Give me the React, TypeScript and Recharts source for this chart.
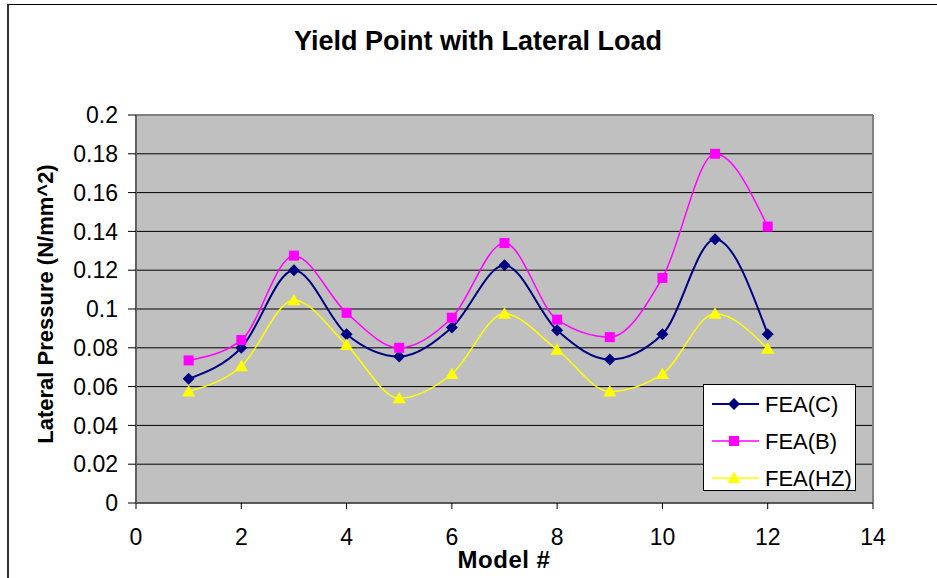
import React from 'react';
import { LineChart, Line, XAxis, YAxis, CartesianGrid, Legend, ReferenceLine } from 'recharts';

const models = [1, 2, 3, 4, 5, 6, 7, 8, 9, 10, 11, 12];
const feaC = [0.064, 0.08, 0.12, 0.087, 0.0755, 0.0905, 0.1225, 0.089, 0.074, 0.087, 0.136, 0.087];
const feaB = [0.0735, 0.084, 0.1275, 0.098, 0.08, 0.0955, 0.134, 0.0945, 0.0855, 0.116, 0.18, 0.1425];
const feaHZ = [0.0575, 0.0705, 0.1045, 0.0815, 0.054, 0.0665, 0.0975, 0.079, 0.0575, 0.0665, 0.0975, 0.0795];
const xTicks = [0, 2, 4, 6, 8, 10, 12, 14];
const yTicks = [0, 0.02, 0.04, 0.06, 0.08, 0.1, 0.12, 0.14, 0.16, 0.18, 0.2];

const data = models.map((m, i) => ({ model: m, c: feaC[i], b: feaB[i], hz: feaHZ[i] }));

const FONT = '"Liberation Sans", Arial, sans-serif';
const NAVY = '#000080';
const MAGENTA = '#FF00FF';
const YELLOW = '#FFFF00';

const diamond = (cx: number, cy: number, key?: any) => {
  const r = 6;
  return <polygon key={key} points={`${cx},${cy - r} ${cx + r},${cy} ${cx},${cy + r} ${cx - r},${cy}`} fill={NAVY} />;
};
const square = (cx: number, cy: number, key?: any) => (
  <rect key={key} x={cx - 5} y={cy - 5} width={10} height={10} fill={MAGENTA} />
);
const triangle = (cx: number, cy: number, key?: any) => (
  <polygon key={key} points={`${cx},${cy - 6.5} ${cx + 6.5},${cy + 5} ${cx - 6.5},${cy + 5}`} fill={YELLOW} />
);

const dotOf = (shape: (cx: number, cy: number, key?: any) => React.ReactElement) => (p: any) => {
  if (p.cx == null || p.cy == null) return <g key={p.key} />;
  return shape(p.cx, p.cy, p.key);
};

const legendItems = [
  { name: 'FEA(C)', color: NAVY, shape: diamond, width: 2 },
  { name: 'FEA(B)', color: MAGENTA, shape: square, width: 1.5 },
  { name: 'FEA(HZ)', color: YELLOW, shape: triangle, width: 1.5 },
];

const renderLegend = () => (
  <div style={{ width: 153, height: 107, boxSizing: 'border-box', border: '1px solid #000', background: '#fff' }}>
    <svg width={151} height={105}>
      {legendItems.map((it, i) => {
        const y = 19 + i * 37;
        return (
          <g key={it.name}>
            <line x1={8} x2={55} y1={y} y2={y} stroke={it.color} strokeWidth={it.width} />
            {it.shape(30, y)}
            <text x={61} y={y} dominantBaseline="central" fontSize={22} fontFamily={FONT} fill="#000">
              {it.name}
            </text>
          </g>
        );
      })}
    </svg>
  </div>
);

export default function App() {
  return (
    <div style={{ position: 'absolute', left: 0, top: 0, width: 937, height: 578, background: '#fff', fontFamily: FONT }}>
      <div
        style={{
          position: 'absolute',
          left: 7,
          top: 4,
          width: 930,
          height: 574,
          borderLeft: '2px solid #333',
          borderTop: '1px solid #000',
        }}
      />
      <div
        style={{
          position: 'absolute',
          left: 0,
          width: 956,
          top: 28,
          textAlign: 'center',
          fontSize: 27,
          lineHeight: '27px',
          fontWeight: 'bold',
          color: '#000',
        }}
      >
        Yield Point with Lateral Load
      </div>
      <LineChart width={937} height={578} data={data} margin={{ top: 115, right: 64, left: 76, bottom: 25 }}>
        <CartesianGrid horizontal vertical={false} stroke="#000" fill="#C0C0C0" fillOpacity={1} />
        <XAxis
          dataKey="model"
          type="number"
          domain={[0, 14]}
          ticks={xTicks}
          interval={0}
          height={50}
          tickSize={6}
          tickMargin={20}
          axisLine={{ stroke: '#505050', strokeWidth: 1.5 }}
          tickLine={{ stroke: '#000' }}
          tick={{ fill: '#000', fontSize: 23, fontFamily: FONT }}
          label={{
            content: () => (
              <text x={504} y={559} textAnchor="middle" dominantBaseline="central" fontSize={24} fontWeight="bold" letterSpacing={0.5} fontFamily={FONT} fill="#000">
                Model #
              </text>
            ),
          }}
        />
        <YAxis
          type="number"
          domain={[0, 0.2]}
          ticks={yTicks}
          interval={0}
          width={60}
          tickSize={8}
          tickMargin={10}
          axisLine={{ stroke: '#606060', strokeWidth: 2 }}
          tickLine={{ stroke: '#000' }}
          tick={{ fill: '#000', fontSize: 23, fontFamily: FONT }}
          label={{
            content: () => (
              <text x={45} y={304} transform="rotate(-90 45 304)" textAnchor="middle" dominantBaseline="central" fontSize={22} fontWeight="bold" fontFamily={FONT} fill="#000">
                Lateral Pressure (N/mm^2)
              </text>
            ),
          }}
        />
        <ReferenceLine x={14} stroke="#808080" strokeWidth={2} />
        <ReferenceLine y={0.2} stroke="#808080" strokeWidth={2} />
        <Legend layout="vertical" align="center" verticalAlign="middle" content={renderLegend} wrapperStyle={{ position: 'absolute', left: 703, top: 384, width: 153, height: 107 }} />
        <Line type="monotone" dataKey="c" name="FEA(C)" stroke={NAVY} strokeWidth={2} dot={dotOf(diamond)} activeDot={false} isAnimationActive={false} />
        <Line type="monotone" dataKey="b" name="FEA(B)" stroke={MAGENTA} strokeWidth={1.5} dot={dotOf(square)} activeDot={false} isAnimationActive={false} />
        <Line type="monotone" dataKey="hz" name="FEA(HZ)" stroke={YELLOW} strokeWidth={1.5} dot={dotOf(triangle)} activeDot={false} isAnimationActive={false} />
      </LineChart>
    </div>
  );
}
